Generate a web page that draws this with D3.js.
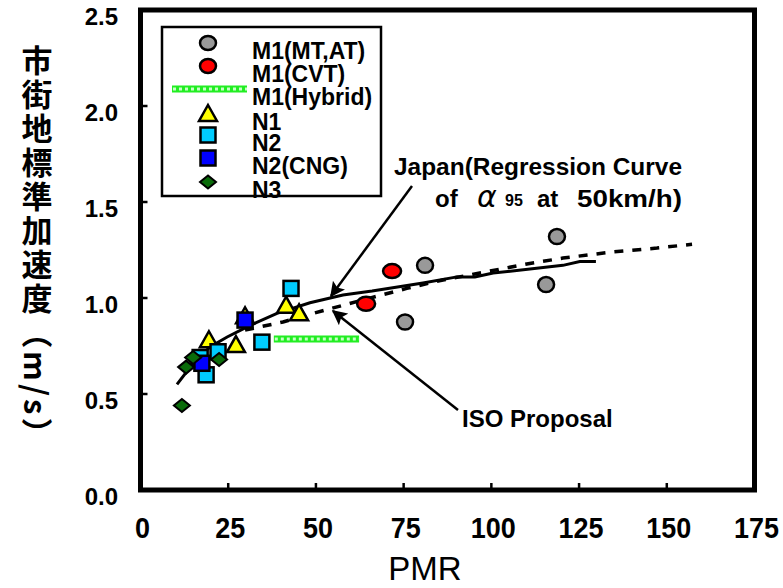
<!DOCTYPE html>
<html>
<head>
<meta charset="utf-8">
<script src="https://cdn.jsdelivr.net/npm/d3@7"></script>
<style>
  body { margin: 0; background: #fff; }
  svg { display: block; }
  text { font-family: "Liberation Sans", Arial, sans-serif; fill: #000; }
</style>
</head>
<body>
<script>
// Axis ticks
const xTicks = [0, 25, 50, 75, 100, 125, 150, 175];
const yTicks = [0.0, 0.5, 1.0, 1.5, 2.0, 2.5];

// Measured vehicles: [PMR, urban reference acceleration]
const m1MtAt = [[118.7, 1.32], [81.1, 1.17], [115.6, 1.07], [75.4, 0.875]];
const m1Cvt = [[71.7, 1.14], [64.3, 0.97]];
const m1Hybrid = [[38.0, 0.786], [62.3, 0.786]];
const n1 = [[19.5, 0.78], [27.2, 0.755], [29.8, 0.905], [41.5, 0.96], [45.2, 0.92]];
const n2 = [[42.9, 1.05], [34.6, 0.77], [22.1, 0.72], [18.7, 0.60], [17.0, 0.69]];
const n2Cng = [[29.8, 0.885], [17.5, 0.66]];
const n3 = [[15.0, 0.69], [13.0, 0.64], [22.4, 0.68], [11.8, 0.44]];

// Japan regression curve of alpha95 at 50 km/h
const japanCurve = [[10.4, 0.55], [15, 0.66], [19.8, 0.745], [24.7, 0.797], [30.4, 0.85],
  [38.9, 0.92], [48.3, 0.975], [57.7, 1.016], [66, 1.036], [80.5, 1.078], [90.2, 1.11],
  [95.3, 1.11], [100.5, 1.13], [120.4, 1.17], [125.2, 1.19], [129.8, 1.19]];
// ISO proposal
const isoProposal = [[29.8, 0.833], [40.6, 0.875], [49.2, 0.92], [63.4, 0.99], [75.9, 1.05],
  [86.2, 1.094], [96.7, 1.13], [110.1, 1.177], [120.4, 1.208], [134.6, 1.24],
  [147.2, 1.26], [157.2, 1.28]];

const legendLabels = ["M1(MT,AT)", "M1(CVT)", "M1(Hybrid)", "N1", "N2", "N2(CNG)", "N3"];

const W = 783, H = 588;
const svg = d3.select("body").append("svg").attr("width", W).attr("height", H);

const x = d3.scaleLinear().domain([0, 175]).range([140.5, 754.5]);
const y = d3.scaleLinear().domain([0, 2.5]).range([490, 10]);

// Marker painters
const styles = {
  gray:   { fill: "#999999" },
  red:    { fill: "#ff0000" },
  yellow: { fill: "#ffff00" },
  cyan:   { fill: "#00ccff" },
  blue:   { fill: "#0000ff" },
  green:  { fill: "#0a6b0a" }
};
function drawCircle(g, cx, cy, fill, rx, ry) {
  g.append("ellipse").attr("cx", cx).attr("cy", cy).attr("rx", rx).attr("ry", ry)
    .attr("fill", fill).attr("stroke", "#000").attr("stroke-width", 2.5);
}
function drawSquare(g, cx, cy, fill) {
  g.append("rect").attr("x", cx - 7.5).attr("y", cy - 7.5).attr("width", 15).attr("height", 15)
    .attr("fill", fill).attr("stroke", "#000").attr("stroke-width", 2.5);
}
function drawTriangle(g, cx, cy, fill) {
  g.append("path").attr("d", `M${cx},${cy - 9} L${cx + 9},${cy + 7} L${cx - 9},${cy + 7} Z`)
    .attr("fill", fill).attr("stroke", "#000").attr("stroke-width", 2.5).attr("stroke-linejoin", "miter");
}
function drawDiamond(g, cx, cy, fill) {
  g.append("path").attr("d", `M${cx},${cy - 6.5} L${cx + 8},${cy} L${cx},${cy + 6.5} L${cx - 8},${cy} Z`)
    .attr("fill", fill).attr("stroke", "#000").attr("stroke-width", 2);
}
function drawHybrid(g, x1, x2, yy) {
  g.append("line").attr("x1", x1).attr("x2", x2).attr("y1", yy).attr("y2", yy)
    .attr("stroke", "#22ee22").attr("stroke-width", 7);
  g.append("line").attr("x1", x1 + 1).attr("x2", x2).attr("y1", yy).attr("y2", yy)
    .attr("stroke", "#c8ffc8").attr("stroke-width", 3).attr("stroke-dasharray", "3,3");
}

// Frame
svg.append("rect").attr("x", x(0)).attr("y", y(2.5))
  .attr("width", x(175) - x(0)).attr("height", y(0) - y(2.5))
  .attr("fill", "none").attr("stroke", "#000").attr("stroke-width", 5);

// Ticks (inside)
const tickG = svg.append("g");
tickG.selectAll(".xt").data(xTicks.slice(1, -1)).enter().append("line")
  .attr("x1", d => x(d)).attr("x2", d => x(d)).attr("y1", y(0)).attr("y2", y(0) - 7)
  .attr("stroke", "#000").attr("stroke-width", 2.5);
tickG.selectAll(".yt").data(yTicks.slice(1, -1)).enter().append("line")
  .attr("x1", x(0)).attr("x2", x(0) + 7).attr("y1", d => y(d)).attr("y2", d => y(d))
  .attr("stroke", "#000").attr("stroke-width", 2.5);

// Tick labels
svg.selectAll(".xl").data(xTicks).enter().append("text")
  .attr("x", d => x(d) + 2).attr("y", 538)
  .attr("text-anchor", "middle")
  .attr("font-size", 30).attr("font-weight", "bold")
  .attr("textLength", d => String(d).length * 15).attr("lengthAdjust", "spacingAndGlyphs")
  .text(d => d);
svg.selectAll(".yl").data(yTicks).enter().append("text")
  .attr("x", 118).attr("y", d => y(d) + 15)
  .attr("text-anchor", "end")
  .attr("font-size", 24).attr("font-weight", "bold")
  .text(d => d.toFixed(1));

// Axis titles
svg.append("text").attr("x", 425).attr("y", 580).attr("text-anchor", "middle")
  .attr("font-size", 33).text("PMR");

// Vertical y title: CJK upright, parentheses and units turned sideways
svg.append("text")
  .attr("x", 37).attr("y", 45)
  .style("writing-mode", "vertical-rl")
  .style("font-family", "'Noto Sans CJK JP', sans-serif")
  .style("letter-spacing", "3px")
  .attr("font-size", 31).attr("font-weight", "bold")
  .text("市街地標準加速度（m/s）");

// Curves
const line = d3.line().x(d => x(d[0])).y(d => y(d[1]));
svg.append("path").datum(isoProposal).attr("d", line)
  .attr("fill", "none").attr("stroke", "#000").attr("stroke-width", 3.5)
  .attr("stroke-dasharray", "9,9");
svg.append("path").datum(japanCurve).attr("d", line)
  .attr("fill", "none").attr("stroke", "#000").attr("stroke-width", 3);

// Data markers
const pts = svg.append("g");
m1MtAt.forEach(d => drawCircle(pts, x(d[0]), y(d[1]), styles.gray.fill, 8, 7.5));
m1Cvt.forEach(d => drawCircle(pts, x(d[0]), y(d[1]), styles.red.fill, 9, 7));
drawHybrid(pts, x(m1Hybrid[0][0]), x(m1Hybrid[1][0]), y(m1Hybrid[0][1]));
n1.forEach(d => drawTriangle(pts, x(d[0]), y(d[1]), styles.yellow.fill));
n2.forEach(d => drawSquare(pts, x(d[0]), y(d[1]), styles.cyan.fill));
n2Cng.forEach(d => drawSquare(pts, x(d[0]), y(d[1]), styles.blue.fill));
n3.forEach(d => drawDiamond(pts, x(d[0]), y(d[1]), styles.green.fill));

// Legend
const lg = svg.append("g");
lg.append("rect").attr("x", 162).attr("y", 27).attr("width", 219).attr("height", 169)
  .attr("fill", "#fff").attr("stroke", "#000").attr("stroke-width", 2.5);
const symY = [43, 66, 89, 114, 135, 158, 182];
drawCircle(lg, 208, symY[0], styles.gray.fill, 8, 7);
drawCircle(lg, 208, symY[1], styles.red.fill, 8, 7);
drawHybrid(lg, 172, 247, symY[2]);
drawTriangle(lg, 208, symY[3], styles.yellow.fill);
drawSquare(lg, 208, symY[4], styles.cyan.fill);
drawSquare(lg, 208, symY[5], styles.blue.fill);
drawDiamond(lg, 208, symY[6], styles.green.fill);
lg.selectAll(".lt").data(legendLabels).enter().append("text")
  .attr("x", 252).attr("y", (d, i) => symY[i] + 16)
  .attr("font-size", 23).attr("font-weight", "bold")
  .text(d => d);

// Annotations with arrows
const defs = svg.append("defs");
defs.append("marker").attr("id", "arrow").attr("viewBox", "0 0 10 10")
  .attr("refX", 9).attr("refY", 5).attr("markerWidth", 6.5).attr("markerHeight", 6)
  .attr("markerUnits", "strokeWidth").attr("orient", "auto")
  .append("path").attr("d", "M0,0 L10,5 L0,10 L2,5 Z").attr("fill", "#000");

svg.append("line").attr("x1", 412).attr("y1", 186).attr("x2", 331).attr("y2", 296)
  .attr("stroke", "#000").attr("stroke-width", 2.5).attr("marker-end", "url(#arrow)");
svg.append("line").attr("x1", 458).attr("y1", 410).attr("x2", 333).attr("y2", 311)
  .attr("stroke", "#000").attr("stroke-width", 2.5).attr("marker-end", "url(#arrow)");

svg.append("text").attr("x", 682).attr("y", 175).attr("text-anchor", "end")
  .attr("font-size", 24).attr("font-weight", "bold")
  .attr("textLength", 288).attr("lengthAdjust", "spacingAndGlyphs")
  .text("Japan(Regression Curve");
svg.append("text").attr("x", 435).attr("y", 207)
  .attr("font-size", 24).attr("font-weight", "bold").text("of");
svg.append("text").attr("x", 477).attr("y", 207)
  .style("font-family", "'DejaVu Sans', sans-serif").attr("font-style", "italic")
  .attr("font-size", 30).text("α");
svg.append("text").attr("x", 505).attr("y", 206)
  .attr("font-size", 16).attr("font-weight", "bold").text("95");
svg.append("text").attr("x", 537).attr("y", 207)
  .attr("font-size", 24).attr("font-weight", "bold").text("at");
svg.append("text").attr("x", 577).attr("y", 207)
  .attr("font-size", 24).attr("font-weight", "bold")
  .attr("textLength", 105).attr("lengthAdjust", "spacingAndGlyphs")
  .text("50km/h)");

svg.append("text").attr("x", 462).attr("y", 427)
  .attr("font-size", 24).attr("font-weight", "bold").text("ISO Proposal");
</script>
</body>
</html>
